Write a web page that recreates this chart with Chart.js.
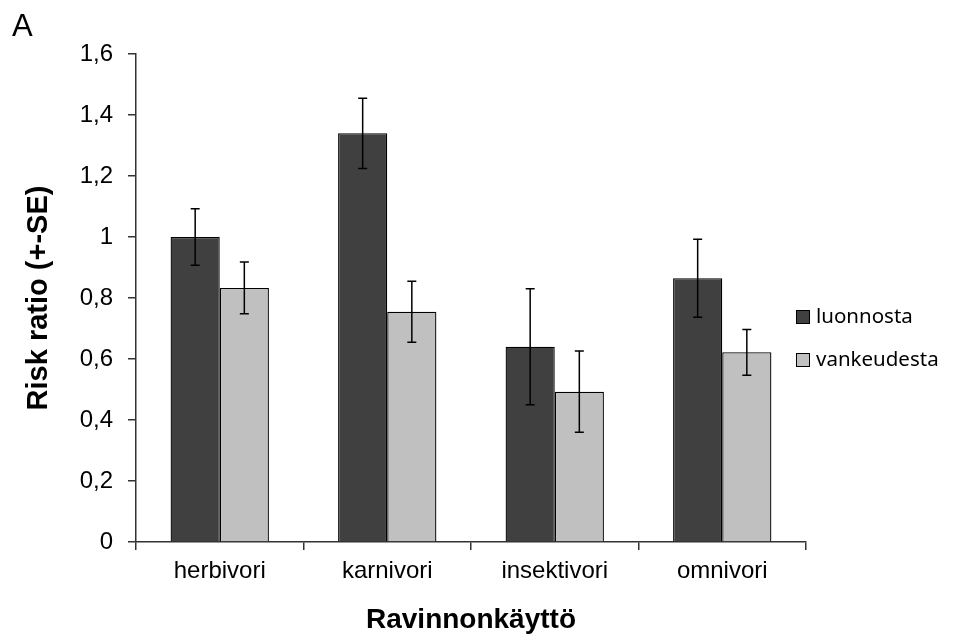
<!DOCTYPE html>
<html>
<head>
<meta charset="utf-8">
<script src="https://cdn.jsdelivr.net/npm/chart.js@4/dist/chart.umd.min.js"></script>
<style>
  html, body { margin: 0; padding: 0; background: #fff; }
  #wrap { width: 960px; height: 641px; }
</style>
</head>
<body>
<div id="wrap"><canvas id="c" width="960" height="641"></canvas></div>
<script>
const categories = ['herbivori', 'karnivori', 'insektivori', 'omnivori'];
const seriesNames = ['luonnosta', 'vankeudesta'];
const luonnosta = [1.00, 1.34, 0.64, 0.865];
const luonnostaSE = [0.093, 0.115, 0.19, 0.128];
const vankeudesta = [0.833, 0.755, 0.493, 0.622];
const vankeudestaSE = [0.085, 0.10, 0.133, 0.075];
const yTickLabels = ['0', '0,2', '0,4', '0,6', '0,8', '1', '1,2', '1,4', '1,6'];
const panelLabel = 'A';
const xTitle = 'Ravinnonkäyttö';
const yTitle = 'Risk ratio (+-SE)';

const errorBars = {
  id: 'errorBars',
  afterDatasetsDraw(chart) {
    const ctx = chart.ctx;
    const y = chart.scales.y;
    ctx.save();
    ctx.strokeStyle = '#000';
    ctx.lineWidth = 1.5;
    chart.data.datasets.forEach((ds, i) => {
      const meta = chart.getDatasetMeta(i);
      meta.data.forEach((bar, j) => {
        const v = ds.data[j], e = ds.se[j];
        const yt = y.getPixelForValue(v + e), yb = y.getPixelForValue(v - e);
        const cap = 4.5;
        ctx.beginPath();
        ctx.moveTo(bar.x, yt); ctx.lineTo(bar.x, yb);
        ctx.moveTo(bar.x - cap, yt); ctx.lineTo(bar.x + cap, yt);
        ctx.moveTo(bar.x - cap, yb); ctx.lineTo(bar.x + cap, yb);
        ctx.stroke();
      });
    });
    ctx.restore();
  }
};

const extras = {
  id: 'extras',
  afterDraw(chart) {
    const ctx = chart.ctx;
    const area = chart.chartArea;
    ctx.save();
    // panel label
    ctx.fillStyle = '#000';
    ctx.font = '31px "Liberation Sans", Arial, sans-serif';
    ctx.textBaseline = 'alphabetic';
    ctx.textAlign = 'left';
    ctx.fillText(panelLabel, 12, 36);
    // legend
    const lx = area.right - 10;
    const rows = [317, 360];
    ctx.font = '20.5px "Noto Sans", "Open Sans", sans-serif';
    ctx.textBaseline = 'middle';
    chart.data.datasets.forEach((ds, i) => {
      const cy = rows[i];
      ctx.fillStyle = ds.backgroundColor;
      ctx.fillRect(lx, cy - 7, 14, 14);
      ctx.strokeStyle = '#000';
      ctx.lineWidth = 1;
      ctx.strokeRect(lx + 0.5, cy - 6.5, 13, 13);
      ctx.fillStyle = '#000';
      ctx.fillText(ds.label, lx + 20, cy);
    });
    ctx.restore();
  }
};

new Chart(document.getElementById('c'), {
  type: 'bar',
  data: {
    labels: categories,
    datasets: [
      { label: seriesNames[0], data: luonnosta, se: luonnostaSE,
        backgroundColor: '#404040', borderColor: '#000', borderWidth: 1.3 },
      { label: seriesNames[1], data: vankeudesta, se: vankeudestaSE,
        backgroundColor: '#c0c0c0', borderColor: '#000', borderWidth: 1.3 }
    ]
  },
  options: {
    responsive: false,
    animation: false,
    devicePixelRatio: 1,
    layout: { padding: { top: 54, right: 154, bottom: 0, left: 0 } },
    plugins: { legend: { display: false }, tooltip: { enabled: false }, title: { display: false } },
    datasets: { bar: { categoryPercentage: 0.587, barPercentage: 1.0 } },
    scales: {
      x: {
        grid: { offset: true, drawOnChartArea: false, drawTicks: true, tickLength: 8, color: '#333', lineWidth: 1.5 },
        border: { display: true, color: '#333', width: 1.5 },
        ticks: { color: '#000', padding: 7, font: { family: '"Liberation Sans", Arial, sans-serif', size: 24 } },
        title: { display: true, text: xTitle, color: '#000', padding: { top: 0, bottom: 4 },
                 font: { family: '"Liberation Sans", Arial, sans-serif', size: 28, weight: 'bold' } },
        afterFit(s) { s.height = 99; }
      },
      y: {
        min: 0, max: 1.6,
        grid: { drawOnChartArea: false, drawTicks: true, tickLength: 8, color: '#333', lineWidth: 1.5 },
        border: { display: true, color: '#333', width: 1.5 },
        ticks: { stepSize: 0.2, color: '#000', padding: 15,
                 font: { family: '"Liberation Sans", Arial, sans-serif', size: 24 },
                 callback: (v, i) => yTickLabels[i] },
        title: { display: true, text: yTitle, color: '#000', padding: { top: 22, bottom: 0 },
                 font: { family: '"Liberation Sans", Arial, sans-serif', size: 29, weight: 'bold' } },
        afterFit(s) { s.width = 136; }
      }
    }
  },
  plugins: [errorBars, extras]
});
</script>
</body>
</html>
